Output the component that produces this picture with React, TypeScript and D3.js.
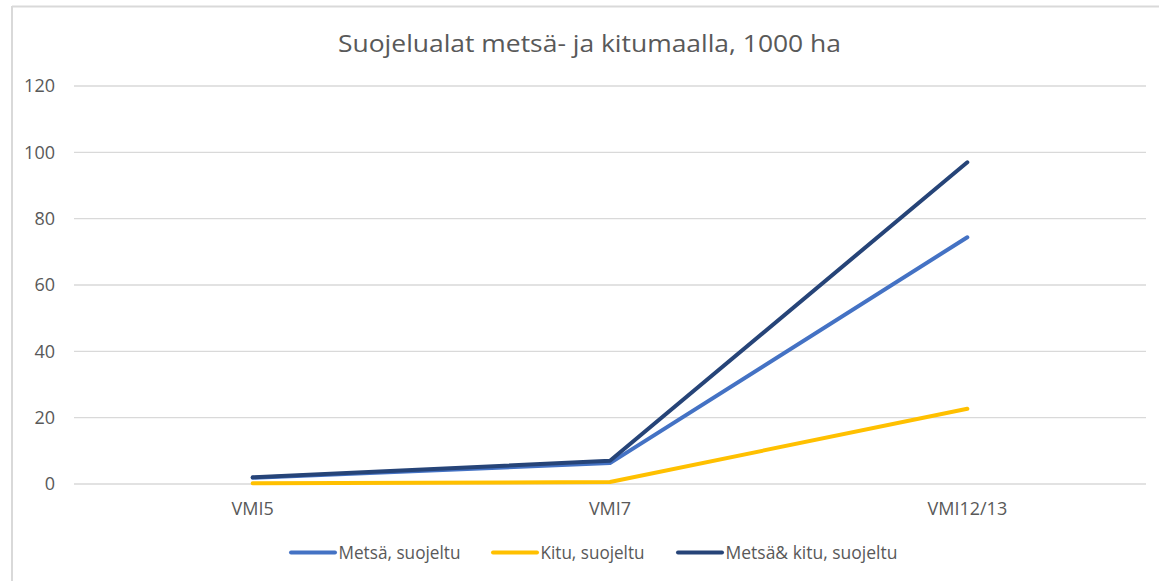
import React from "react";
import * as d3 from "d3";

const categories = ["VMI5", "VMI7", "VMI12/13"];
const metsa = [1.9, 6.3, 74.4];
const kitu = [0.2, 0.6, 22.7];
const metsaKitu = [2.0, 7.0, 97.0];
const yTicks = [0, 20, 40, 60, 80, 100, 120];

const series = [
  { name: "Metsä, suojeltu", values: metsa, color: "#4472C4" },
  { name: "Kitu, suojeltu", values: kitu, color: "#FFC000" },
  { name: "Metsä& kitu, suojeltu", values: metsaKitu, color: "#264478" },
];

const W = 1159;
const H = 581;
const font = "'Open Sans', 'Noto Sans', sans-serif";

export default function App() {
  const x = d3.scaleBand().domain(categories).range([74, 1146]);
  const y = d3.scaleLinear().domain([0, 120]).range([484, 86]);
  const cx = (c: string) => (x(c) as number) + x.bandwidth() / 2;

  const line = d3
    .line<number>()
    .x((_, i) => cx(categories[i]))
    .y((d) => y(d));

  // legend layout (the reference legend text is a bit narrower than Open Sans)
  const legendX = [291, 493, 678];
  const legendTextW = [122, 104, 172];

  return (
    <svg
      width={W}
      height={H}
      style={{ position: "absolute", left: 0, top: 0, background: "#fff" }}
    >
      <rect x={0} y={0} width={W} height={H} fill="#fff" />
      {/* chart frame: only top and left edges show in the crop */}
      <line x1={12} y1={6.5} x2={W} y2={6.5} stroke="#D9D9D9" strokeWidth={2} />
      <line x1={12} y1={6} x2={12} y2={H} stroke="#D9D9D9" strokeWidth={2} />

      <text
        x={338}
        y={51.5}
        fontFamily={font}
        fontSize={24.5}
        textLength={503}
        lengthAdjust="spacingAndGlyphs"
        fill="#595959"
      >
        Suojelualat metsä- ja kitumaalla, 1000 ha
      </text>

      {yTicks.map((t) => (
        <g key={t}>
          <line
            x1={74}
            x2={1146}
            y1={y(t)}
            y2={y(t)}
            stroke="#D9D9D9"
            strokeWidth={1.3}
          />
          <text
            x={55}
            y={y(t)}
            dy="0.35em"
            textAnchor="end"
            fontFamily={font}
            fontSize={18}
            fill="#595959"
          >
            {t}
          </text>
        </g>
      ))}

      {categories.map((c) => (
        <text
          key={c}
          x={cx(c)}
          y={515}
          textAnchor="middle"
          fontFamily={font}
          fontSize={18}
          fill="#595959"
        >
          {c}
        </text>
      ))}

      {series.map((s) => (
        <path
          key={s.name}
          d={line(s.values) || ""}
          fill="none"
          stroke={s.color}
          strokeWidth={4}
          strokeLinecap="round"
          strokeLinejoin="round"
        />
      ))}

      {series.map((s, i) => (
        <g key={s.name} transform={`translate(${legendX[i]},552.5)`}>
          <line
            x1={0}
            x2={44}
            y1={0}
            y2={0}
            stroke={s.color}
            strokeWidth={4}
            strokeLinecap="round"
          />
          <text
            x={47.5}
            y={6.8}
            fontFamily={font}
            fontSize={18.5}
            textLength={legendTextW[i]}
            lengthAdjust="spacingAndGlyphs"
            fill="#595959"
          >
            {s.name}
          </text>
        </g>
      ))}
    </svg>
  );
}
